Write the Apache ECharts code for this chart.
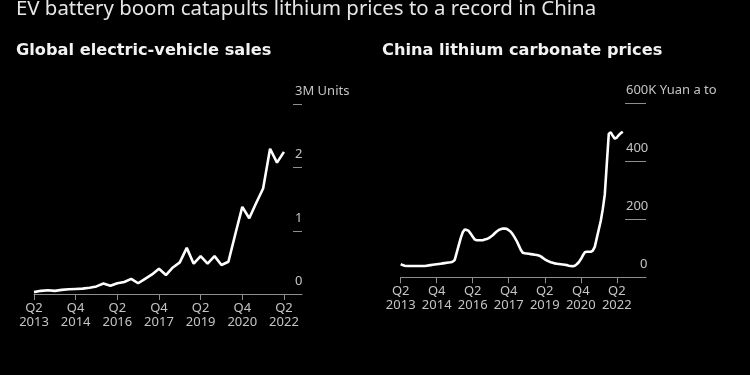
<!DOCTYPE html>
<html><head><meta charset="utf-8">
<script src="https://cdn.jsdelivr.net/npm/echarts@6/dist/echarts.min.js"></script>
<style>html,body{margin:0;padding:0;background:#000;}#c{width:750px;height:375px;}</style>
</head><body><div id="c"></div>
<script>
const chartTitle = 'EV battery boom catapults lithium prices to a record in China';
const leftTitle = 'Global electric-vehicle sales';
const rightTitle = 'China lithium carbonate prices';

// x tick labels (shared)
const tickLabels = ['Q2\n2013', 'Q4\n2014', 'Q2\n2016', 'Q4\n2017', 'Q2\n2019', 'Q4\n2020', 'Q2\n2022'];
// left: quarterly steps between labels; right: monthly steps
const evTickPositions = [0, 6, 12, 18, 24, 30, 36];
const priceTickPositions = [0, 18, 36, 54, 72, 90, 108];

// Global EV sales, million units, quarterly from Q2 2013 to Q2 2022
const evSales = [0.03, 0.05, 0.06, 0.05, 0.065, 0.075, 0.08, 0.085, 0.10, 0.12,
  0.165, 0.13, 0.17, 0.19, 0.24, 0.17, 0.24, 0.31, 0.40, 0.30,
  0.42, 0.50, 0.73, 0.48, 0.60, 0.48, 0.60, 0.46, 0.51, 0.95,
  1.38, 1.20, 1.44, 1.67, 2.30, 2.08, 2.25];
const evAxisValues = [0, 1, 2, 3];
const evAxisLabels = ['0', '1', '2', '3M Units'];

// China lithium carbonate price, thousand yuan a ton, monthly from Q2 2013
const lithiumPrices = [45, 42, 40, 39, 39, 39, 39, 39, 39, 39,
  39, 39, 39, 40, 41, 42, 43, 44, 45, 46,
  47, 48, 49, 50, 51, 52, 54, 60, 85, 110,
  135, 155, 165, 163, 160, 150, 140, 130, 128, 128,
  128, 128, 130, 132, 135, 140, 145, 152, 158, 163,
  166, 168, 168, 167, 162, 157, 148, 137, 125, 110,
  95, 85, 83, 82, 81, 80, 79, 78, 77, 75,
  72, 67, 62, 58, 55, 52, 50, 48, 47, 46,
  45, 44, 43, 42, 40, 39, 38, 40, 45, 52,
  62, 75, 86, 88, 88, 88, 92, 105, 135, 165,
  195, 235, 285, 390, 495, 500, 488, 478, 482, 490,
  497, 502];
const priceAxisValues = [0, 200, 400, 600];
const priceAxisLabels = ['0', '200', '400', '600K Yuan a ton'];

const AX = '#8e8e8e';
const LBL = '#c4c4c4';
const FONT = 'Noto Sans';

function xAxisCfg(gridIndex, max, ticks, step) {
  return {
    type: 'value', gridIndex, min: 0, max,
    splitLine: { show: false },
    axisLine: { show: true, onZero: false, lineStyle: { color: AX, width: 1 } },
    axisTick: { show: true, customValues: ticks, length: 6, lineStyle: { color: AX } },
    axisLabel: {
      customValues: ticks, color: LBL, fontFamily: FONT, fontSize: 13, lineHeight: 14, margin: 7,
      formatter: v => tickLabels[Math.round(v / step)]
    }
  };
}

const option = {
  backgroundColor: '#000',
  animation: false,
  title: [
    { text: chartTitle, left: 16, top: -2, padding: 0,
      textStyle: { color: '#e6e6e6', fontFamily: FONT, fontWeight: 'normal', fontSize: 20.4, lineHeight: 22 } },
    { text: leftTitle, left: 16, top: 42, padding: 0,
      textStyle: { color: '#f2f2f2', fontFamily: 'DejaVu Sans', fontWeight: 'bold', fontSize: 16.2, lineHeight: 18 } },
    { text: rightTitle, left: 382, top: 42, padding: 0,
      textStyle: { color: '#f2f2f2', fontFamily: 'DejaVu Sans', fontWeight: 'bold', fontSize: 16.2, lineHeight: 18 } }
  ],
  grid: [
    { left: 34, right: 448, top: 104.5, bottom: 81 },
    { left: 400.7, right: 104, top: 103.3, bottom: 97.7 }
  ],
  xAxis: [
    xAxisCfg(0, 38.6, evTickPositions, 6),
    xAxisCfg(1, 122.6, priceTickPositions, 18)
  ],
  yAxis: [
    { type: 'value', gridIndex: 0, position: 'right', min: 0, max: 3, interval: 1,
      splitLine: { show: false }, axisLine: { show: false, onZero: false },
      axisTick: { show: true, inside: true, length: 9, lineStyle: { color: AX } },
      axisLabel: { margin: -7, align: 'left', verticalAlign: 'bottom', padding: [0, 0, 6, 0],
        color: LBL, fontFamily: FONT, fontSize: 13, lineHeight: 14,
        formatter: v => evAxisLabels[evAxisValues.indexOf(v)] } },
    { type: 'value', gridIndex: 1, position: 'right', min: 0, max: 600, interval: 200,
      splitLine: { show: false }, axisLine: { show: false, onZero: false },
      axisTick: { show: true, inside: true, length: 21, lineStyle: { color: AX } },
      axisLabel: { margin: -20, align: 'left', verticalAlign: 'bottom', padding: [0, 0, 6, 0],
        color: LBL, fontFamily: FONT, fontSize: 13, lineHeight: 14,
        width: 97, overflow: 'truncate', ellipsis: '',
        formatter: v => {
          const s = priceAxisLabels[priceAxisValues.indexOf(v)];
          return v === 0 ? '{z|' + s + '}' : s;
        },
        rich: { z: { color: LBL, fontFamily: FONT, fontSize: 13, lineHeight: 14, padding: [0, 0, 0, 14] } } } }
  ],
  series: [
    { type: 'line', xAxisIndex: 0, yAxisIndex: 0, showSymbol: false,
      data: evSales.map((v, i) => [i, v]),
      lineStyle: { color: '#ffffff', width: 2.6 }, itemStyle: { color: '#ffffff' } },
    { type: 'line', xAxisIndex: 1, yAxisIndex: 1, showSymbol: false,
      data: lithiumPrices.map((v, i) => [i, v]),
      lineStyle: { color: '#ffffff', width: 2.6 }, itemStyle: { color: '#ffffff' } }
  ]
};

const chart = echarts.init(document.getElementById('c'), null, { renderer: 'canvas' });
chart.setOption(option);
</script>
</body></html>
